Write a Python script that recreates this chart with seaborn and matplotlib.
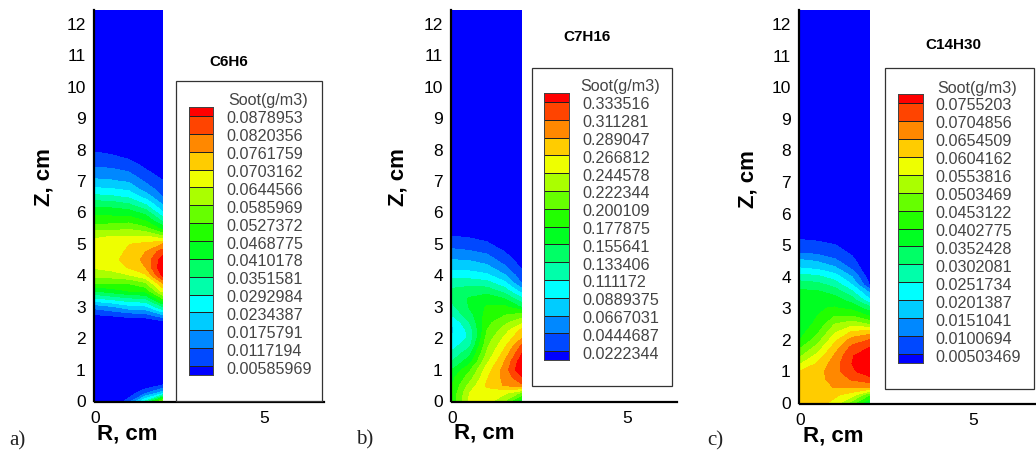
import numpy as np
import matplotlib
matplotlib.use("Agg")
import matplotlib.pyplot as plt
from matplotlib.colors import ListedColormap
from matplotlib.patches import Rectangle
import seaborn as sns

# ---------- data ----------
R_COLS = [0.0, 0.5, 1.0, 1.5, 2.0]

# Soot is given in multiples of the lowest contour level of each panel.
Z_A = [0, .25, .5, .75, 2.25, 2.5, 2.75, 3, 3.25, 3.5, 3.75, 4, 4.25, 4.5, 4.75, 5, 5.25,
       5.5, 5.75, 6, 6.25, 6.5, 6.75, 7, 7.25, 7.5, 7.75, 8, 8.25, 13]
A_R00 = [0, 0, 0, 0, 0, 0, 1.0, 2.35, 4.75, 7, 9, 10.3, 11.1, 11.3, 11.2, 11.1, 10.95, 9.5, 8.5, 7.65, 6.7, 5.3, 4.15, 3.2, 2.5, 1.85, 1.35, .85, 0, 0]
A_R05 = [0, 0, 0, 0, 0, 0, 1.2, 2.9, 5.2, 7.5, 9, 10.5, 11.4, 11.7, 11.5, 11.2, 11, 9.6, 8.5, 7.6, 6.55, 5.15, 4.05, 3.1, 2.4, 1.75, 1.2, .65, 0, 0]
A_R10 = [1.4, .4, 0, 0, 0, 0, 1.55, 3.6, 5.7, 8, 9.05, 10.9, 12.1, 12.4, 12.2, 11.95, 11, 9.8, 8.6, 7.45, 6.15, 4.8, 3.75, 2.85, 2.1, 1.5, .85, 0, 0, 0]
A_R15 = [5, 1.9, .3, 0, 0, 0, 1.7, 3.8, 5.9, 8.3, 9.8, 11.8, 13, 13.3, 13, 12.2, 11, 9.2, 7.9, 6.6, 5, 3.6, 2.5, 1.85, 1.25, .75, .2, 0, 0, 0]
A_R20 = [10, 3.6, 1.05, 0, 0, .4, 3, 6, 8.9, 11.3, 13, 15.3, 15.9, 15.5, 14.5, 13, 10, 7.6, 5.7, 4.1, 3, 1.95, 1.5, 1.05, .6, 0, 0, 0, 0, 0]

Z_BC = [0, .25, .5, .75, 1, 1.25, 1.5, 1.75, 2, 2.25, 2.5, 2.75, 3, 3.25, 3.5, 3.75, 4, 4.25,
        4.5, 4.75, 5, 5.25, 5.5, 13]
B_R00 = [8.3, 8.2, 8, 7.7, 7, 6, 5.3, 4.6, 4.05, 3.85, 4, 5.1, 5.8, 6.1, 6.2, 5.6, 4.6, 3.7, 3, 2.25, 1.6, 1, 0, 0]
B_R05 = [11.2, 11, 10.3, 9.5, 8.8, 7.6, 6.8, 5.8, 5.2, 5.3, 6, 6.6, 7.1, 7.1, 6.6, 5.6, 4.5, 3.6, 2.9, 2.1, 1.5, .85, 0, 0]
B_R10 = [11.5, 11.5, 12.2, 11.9, 11.5, 10.8, 10.2, 9.8, 9.4, 9, 8.7, 8.4, 8.1, 7.6, 6.6, 5.4, 4.2, 3.3, 2.5, 1.8, 1.15, .6, 0, 0]
B_R15 = [10, 11.2, 13.1, 13.3, 13.4, 13, 12.4, 11.8, 11.2, 10.5, 9.7, 8.9, 8.2, 7, 5.6, 4.3, 3.1, 2.2, 1.5, 1, .4, 0, 0, 0]
B_R20 = [7, 9.7, 13.8, 14.9, 16, 15.7, 15, 14.2, 13, 12.3, 10.8, 9.4, 6.8, 5.2, 3.5, 1.9, 1.35, .85, .5, .1, 0, 0, 0, 0]

C_R00 = [12.4, 12.5, 12.5, 12.4, 12, 10.9, 9.8, 8.9, 8, 7.6, 7.5, 7.7, 8, 7.6, 7.3, 6.5, 5.4, 4.1, 3.2, 2, 1.45, .8, 0, 0]
C_R05 = [12.4, 12.5, 12.6, 12.7, 12.6, 12.1, 11.3, 10.4, 9.5, 8.8, 8.2, 8, 7.9, 7.6, 7.2, 6.3, 5.2, 3.9, 2.9, 1.8, 1.3, .7, 0, 0]
C_R10 = [11.7, 12.2, 13.05, 13.3, 13.6, 13.5, 13.1, 12.5, 11.7, 10.8, 10, 9, 8.1, 7.5, 6.7, 5.6, 4.5, 3.3, 2.2, 1.5, 1.05, .3, 0, 0]
C_R15 = [9.5, 11.4, 13.1, 14.1, 14.8, 15, 14.9, 14.3, 13.4, 12.1, 10.6, 9, 7.7, 6.6, 5.3, 4, 3, 1.9, 1.3, .85, .3, 0, 0, 0]
C_R20 = [7, 9, 13.1, 14.6, 15.6, 16, 15.8, 15, 14, 12.5, 9.9, 8, 6.5, 4.3, 3, 1, .5, .1, 0, 0, 0, 0, 0, 0]

LABELS_A = ["0.0878953", "0.0820356", "0.0761759", "0.0703162", "0.0644566", "0.0585969", "0.0527372",
            "0.0468775", "0.0410178", "0.0351581", "0.0292984", "0.0234387", "0.0175791", "0.0117194", "0.00585969"]
LABELS_B = ["0.333516", "0.311281", "0.289047", "0.266812", "0.244578", "0.222344", "0.200109",
            "0.177875", "0.155641", "0.133406", "0.111172", "0.0889375", "0.0667031", "0.0444687", "0.0222344"]
LABELS_C = ["0.0755203", "0.0704856", "0.0654509", "0.0604162", "0.0553816", "0.0503469", "0.0453122",
            "0.0402775", "0.0352428", "0.0302081", "0.0251734", "0.0201387", "0.0151041", "0.0100694", "0.00503469"]

SPECIES = ["C6H6", "C7H16", "C14H30"]
TAGS = ["a)", "b)", "c)"]
Z_TICKS = list(range(13))
R_TICKS = [0, 5]

BAND_COLORS = ["#0000ff", "#0048ff", "#0088ff", "#00ccff", "#00ffff", "#00ffaa", "#00ff66", "#00ff22",
               "#22ff00", "#66ff00", "#aaff00", "#eeff00", "#ffcc00", "#ff8800", "#ff4400", "#ff0000"]

# ---------- layout in reference pixels ----------
W, H = 1036, 450
PANELS = [
    dict(left=95, right=324, x5=264, bottom=401, y12=24, top=10,
         box=(176, 81, 322, 401), strip=(189, 107, 213, 375), lab_x=226, title_xy=(228, 101),
         sp_xy=(229, 62), rl=(127, 434), zl=(44, 177), tag=(9, 441)),
    dict(left=452, right=677, x5=627, bottom=401, y12=24, top=10,
         box=(532, 68, 672, 386), strip=(544, 93, 569, 360), lab_x=582, title_xy=(580, 87),
         sp_xy=(587, 37), rl=(484, 433), zl=(398, 177), tag=(356, 440)),
    dict(left=800, right=1036, x5=973, bottom=403, y12=24, top=10,
         box=(885, 68, 1034, 389), strip=(898, 94, 923, 363), lab_x=935, title_xy=(937, 88),
         sp_xy=(953, 45), rl=(833, 436), zl=(748, 179), tag=(707, 441)),
]

sns.set_theme(style="white")
plt.rcParams["font.family"] = ["Liberation Sans", "DejaVu Sans"]

fig = plt.figure(figsize=(W / 100, H / 100), dpi=100, facecolor="white")


def px_axes(l, t, r, b, **kw):
    return fig.add_axes([l / W, 1 - b / H, (r - l) / W, (b - t) / H], **kw)


def px_text(x, y, s, **kw):
    return fig.text(x / W, 1 - y / H, s, **kw)


FIELDS = [
    (Z_A, [A_R00, A_R05, A_R10, A_R15, A_R20], LABELS_A),
    (Z_BC, [B_R00, B_R05, B_R10, B_R15, B_R20], LABELS_B),
    (Z_BC, [C_R00, C_R05, C_R10, C_R15, C_R20], LABELS_C),
]

for p, (z, cols, labels), sp, tag in zip(PANELS, FIELDS, SPECIES, TAGS):
    ax = px_axes(p["left"], p["top"], p["right"], p["bottom"])
    step = float(labels[-1])
    field = np.array(cols, dtype=float).T * step
    # levels 1..15 (labels are listed from the highest down) with open ends
    levels = [-1.0] + [float(s) for s in labels[::-1]] + [100.0]
    ax.contourf(R_COLS, z, field, levels=levels, colors=BAND_COLORS, antialiased=False)

    px_cm_x = (p["x5"] - p["left"]) / 5
    px_cm_z = (p["bottom"] - p["y12"]) / 12
    ax.set_xlim(0, (p["right"] - p["left"]) / px_cm_x)
    ax.set_ylim(0, (p["bottom"] - p["top"]) / px_cm_z)
    ax.set_xticks(R_TICKS)
    ax.set_yticks(Z_TICKS)
    ax.tick_params(axis="both", length=0, labelsize=12.5, labelcolor="black", pad=6)
    ax.tick_params(axis="x", pad=6.3)
    for t in ax.get_xticklabels() + ax.get_yticklabels():
        t.set_fontweight("bold")
    sns.despine(ax=ax)
    for s in ("left", "bottom"):
        ax.spines[s].set_color("black")
        ax.spines[s].set_linewidth(1.6)
    ax.spines["bottom"].set_position(("outward", 1.0))
    ax.spines["left"].set_position(("outward", 0.6))
    ax.grid(False)

    # legend frame
    bx0, by0, bx1, by1 = p["box"]
    fig.add_artist(Rectangle((bx0 / W, 1 - by1 / H), (bx1 - bx0) / W, (by1 - by0) / H,
                             transform=fig.transFigure, facecolor="white",
                             edgecolor="#333333", linewidth=0.9, zorder=3))

    # legend colour strip: first and last rows are half cut by the limits
    sx0, sy0, sx1, sy1 = p["strip"]
    cax = px_axes(sx0, sy0, sx1, sy1, zorder=5)
    strip = np.arange(len(BAND_COLORS))[::-1].reshape(-1, 1)
    sns.heatmap(strip, ax=cax, cmap=ListedColormap(BAND_COLORS), cbar=False,
                xticklabels=False, yticklabels=False, linewidths=0.45, linecolor="#222222",
                vmin=-0.5, vmax=len(BAND_COLORS) - 0.5)
    cax.set_ylim(len(BAND_COLORS) - 0.5, 0.5)
    for s in cax.spines.values():
        s.set_visible(True)
        s.set_color("#444444")
        s.set_linewidth(0.7)

    band_h = (sy1 - sy0) / (len(BAND_COLORS) - 1)
    for i, lab in enumerate(labels):
        ly = sy0 + band_h * (i + 0.5) + 3
        px_text(p["lab_x"], ly, lab, fontsize=11.6, color="#444444", ha="left", va="center", zorder=6)
    px_text(p["title_xy"][0], p["title_xy"][1], "Soot(g/m3)", fontsize=11.6, color="#444444",
            ha="left", va="center", zorder=6)

    px_text(p["sp_xy"][0], p["sp_xy"][1], sp, fontsize=11, fontweight="bold", color="black",
            ha="center", va="center")
    px_text(p["rl"][0], p["rl"][1], "R, cm", fontsize=16, fontweight="bold", color="black",
            ha="center", va="center")
    px_text(p["zl"][0], p["zl"][1], "Z, cm", fontsize=16, fontweight="bold", color="black",
            ha="center", va="center", rotation=90)
    px_text(p["tag"][0], p["tag"][1], tag, fontsize=15, family="Liberation Serif", color="#222222",
            ha="left", va="center")

fig.savefig("out.png", dpi=100)
